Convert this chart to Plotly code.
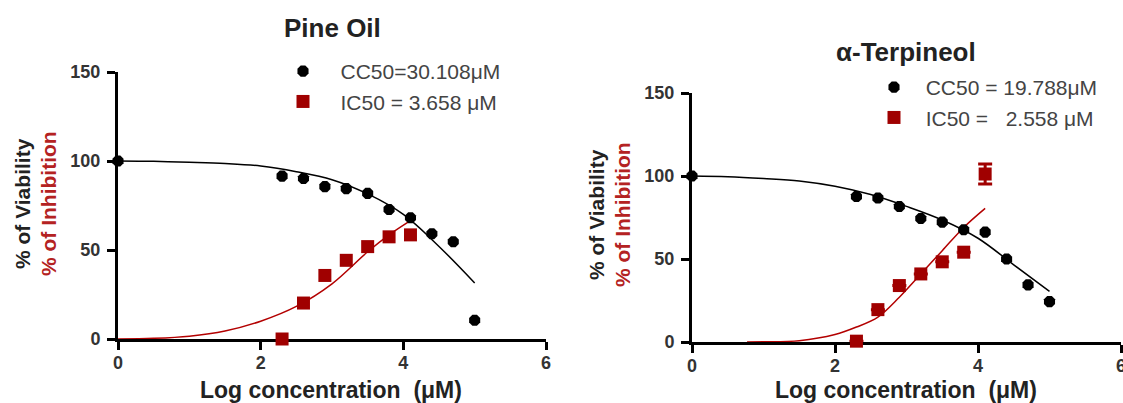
import plotly.graph_objects as go

# ---------------- data ----------------
# Pine Oil
pine_cc_x = [0, 2.3, 2.6, 2.9, 3.2, 3.5, 3.8, 4.1, 4.4, 4.7, 5.0]
pine_viability = [100, 91.5, 90.2, 85.6, 84.5, 81.8, 72.8, 68.1, 59.1, 54.6, 10.5]
pine_ic_x = [2.3, 2.6, 2.9, 3.2, 3.5, 3.8, 4.1]
pine_inhibition = [0, 20.2, 35.7, 44.2, 51.9, 57.4, 58.5]
pine_cc_fit_x = [0, 0.5, 1, 1.5, 2, 2.5, 3, 3.5, 4, 4.5, 5.0]
pine_cc_fit_y = [100, 99.8, 99.3, 98.6, 97.2, 94, 89.5, 81.5, 70, 52, 31.5]
pine_ic_fit_x = [0, 0.5, 1, 1.5, 2, 2.5, 3, 3.5, 3.8, 4.1]
pine_ic_fit_y = [0, 0.4, 1.6, 4.5, 10, 18.3, 31, 49, 58.5, 66.5]

# alpha-Terpineol
terp_cc_x = [0, 2.3, 2.6, 2.9, 3.2, 3.5, 3.8, 4.1, 4.4, 4.7, 5.0]
terp_viability = [100, 87.6, 86.7, 81.6, 74.4, 72.2, 67.6, 66.2, 50, 34.4, 24.3]
terp_ic_x = [2.3, 2.6, 2.9, 3.2, 3.5, 3.8, 4.1]
terp_inhibition = [0.5, 19.5, 34, 41, 48.3, 54.1, 101.2]
terp_inhibition_err = [None, None, None, None, None, None, 6]
terp_cc_fit_x = [0, 0.5, 1, 1.5, 2, 2.5, 3, 3.5, 4, 4.5, 5.0]
terp_cc_fit_y = [100, 99.6, 98.5, 97, 93.8, 88.8, 81.7, 73.5, 62.5, 46.5, 30.5]
terp_ic_fit_x = [0.77, 1.0, 1.5, 2.0, 2.3, 2.6, 2.9, 3.2, 3.5, 3.8, 4.1]
terp_ic_fit_y = [0, 0.1, 0.8, 4.5, 9, 15, 27, 41, 55, 69, 80.5]

titles = ["Pine Oil", "\u03b1-Terpineol"]
legend_pine = ["CC50=30.108\u03bcM", "IC50 = 3.658 \u03bcM"]
legend_terp = ["CC50 = 19.788\u03bcM", "IC50 =   2.558 \u03bcM"]
x_ticks = [0, 2, 4, 6]
y_ticks = [0, 50, 100, 150]

# ---------------- styling ----------------
FONT = "Liberation Sans, Arial, sans-serif"
RED = "#a00000"
RED_TEXT = "#b42222"
W, H = 1123, 403

fig = go.Figure()

def add_panel(xa, ya, legend_id, cc_x, cc_y, ic_x, ic_y, ccf_x, ccf_y, icf_x, icf_y, names, pad, err=None):
    fig.add_trace(go.Scatter(x=ccf_x, y=ccf_y, mode="lines", line=dict(color="black", width=1.5, shape="spline"),
                             xaxis=xa, yaxis=ya, showlegend=False, hoverinfo="skip"))
    fig.add_trace(go.Scatter(x=icf_x, y=icf_y, mode="lines", line=dict(color="#b30000", width=1.5, shape="spline"),
                             xaxis=xa, yaxis=ya, showlegend=False, hoverinfo="skip"))
    fig.add_trace(go.Scatter(x=cc_x, y=cc_y, mode="markers", name=pad + names[0],
                             marker=dict(symbol="octagon", size=12, color="black"),
                             xaxis=xa, yaxis=ya, legend=legend_id, cliponaxis=False))
    ed = None
    if err is not None:
        ed = dict(type="data", array=err, color=RED, thickness=3, width=7)
    fig.add_trace(go.Scatter(x=ic_x, y=ic_y, mode="markers", name=pad + names[1],
                             marker=dict(symbol="square", size=13, color=RED),
                             error_y=ed,
                             xaxis=xa, yaxis=ya, legend=legend_id, cliponaxis=False))

add_panel("x", "y", "legend", pine_cc_x, pine_viability, pine_ic_x, pine_inhibition,
          pine_cc_fit_x, pine_cc_fit_y, pine_ic_fit_x, pine_ic_fit_y, legend_pine, "\u00a0\u00a0\u00a0")
add_panel("x2", "y2", "legend2", terp_cc_x, terp_viability, terp_ic_x, terp_inhibition,
          terp_cc_fit_x, terp_cc_fit_y, terp_ic_fit_x, terp_ic_fit_y, legend_terp, "\u00a0\u00a0",
          err=terp_inhibition_err)

axis_common = dict(showline=True, linewidth=3, linecolor="black", ticks="outside", tickwidth=3,
                   ticklen=8, tickcolor="black", showgrid=False, zeroline=False, automargin=False,
                   tickfont=dict(family=FONT, size=18, color="#333", weight="bold"),
                   layer="below traces", ticklabeloverflow="allow")

def px_x(p):
    return p / W

def px_y(p):
    return 1 - p / H

fig.update_layout(
    width=W, height=H, margin=dict(l=0, r=0, t=0, b=0, autoexpand=False),
    paper_bgcolor="white", plot_bgcolor="white",
    xaxis=dict(domain=[px_x(118), px_x(546)], range=[0, 6], tickvals=x_ticks, anchor="y",
               ticklabelstandoff=-3, **axis_common),
    yaxis=dict(domain=[px_y(339), px_y(72)], range=[0, 150], tickvals=y_ticks, anchor="x",
               ticklabelstandoff=3, **axis_common),
    xaxis2=dict(domain=[px_x(692), px_x(1121)], range=[0, 6], tickvals=x_ticks, anchor="y2",
                ticklabelstandoff=-3, **axis_common),
    yaxis2=dict(domain=[px_y(342), px_y(93)], range=[0, 150], tickvals=y_ticks, anchor="x2",
                ticklabelstandoff=3, **axis_common),
    legend=dict(x=px_x(283), y=px_y(51), xanchor="left", yanchor="top", bgcolor="rgba(0,0,0,0)",
                font=dict(family=FONT, size=21, color="#444"), tracegroupgap=0, itemclick=False),
    legend2=dict(x=px_x(874), y=px_y(67), xanchor="left", yanchor="top", bgcolor="rgba(0,0,0,0)",
                 font=dict(family=FONT, size=21, color="#444"), tracegroupgap=0, itemclick=False),
    showlegend=True,
)

ann = []
# panel titles
ann.append(dict(text=titles[0], x=px_x(332), y=px_y(28), xref="paper", yref="paper", showarrow=False,
                font=dict(family=FONT, size=26, color="#222", weight="bold"), xanchor="center", yanchor="middle"))
ann.append(dict(text=titles[1], x=px_x(906), y=px_y(52), xref="paper", yref="paper", showarrow=False,
                font=dict(family=FONT, size=26, color="#222", weight="bold"), xanchor="center", yanchor="middle"))
# x-axis titles
for cx in (331, 906):
    ann.append(dict(text="Log concentration  (\u03bcM)", x=px_x(cx), y=px_y(390), xref="paper", yref="paper",
                    showarrow=False, font=dict(family=FONT, size=23, color="#222", weight="bold"),
                    xanchor="center", yanchor="middle"))
# y-axis titles (two coloured lines)
for bx, rx, cy in ((22, 48, 204), (596, 622, 215)):
    ann.append(dict(text="% of Viability", x=px_x(bx), y=px_y(cy), xref="paper", yref="paper", showarrow=False,
                    textangle=-90, font=dict(family=FONT, size=21, color="#222", weight="bold"),
                    xanchor="center", yanchor="middle"))
    ann.append(dict(text="% of Inhibition", x=px_x(rx), y=px_y(cy), xref="paper", yref="paper", showarrow=False,
                    textangle=-90, font=dict(family=FONT, size=21, color=RED_TEXT, weight="bold"),
                    xanchor="center", yanchor="middle"))
fig.update_layout(annotations=ann)

fig.write_html("out.html")
